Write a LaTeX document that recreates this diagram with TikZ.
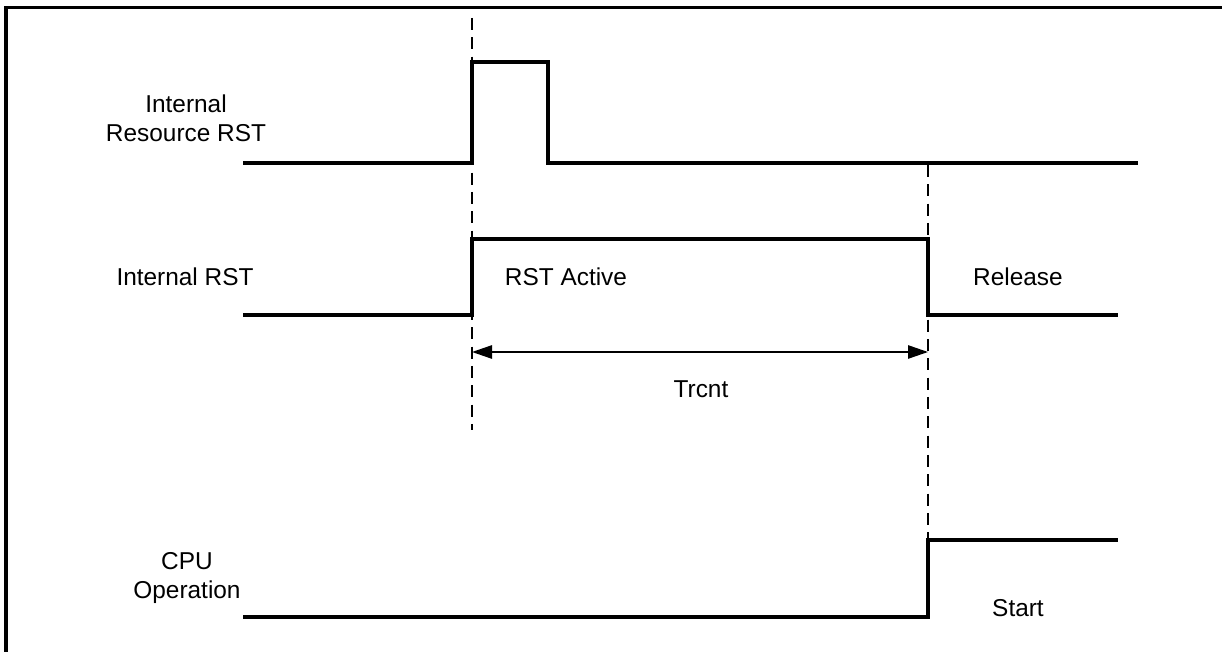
\documentclass[tikz,border=0pt]{standalone}
\usepackage{fontspec}
\setmainfont{Liberation Sans}
\usetikzlibrary{arrows.meta}
\begin{document}
\begin{tikzpicture}[x=0.75pt,y=-0.75pt,
  sig/.style={line width=2.7pt,line join=miter},
  frame/.style={line width=2.8pt},
  guide/.style={line width=1.2pt,dash pattern=on 9pt off 5.5pt},
  dim/.style={line width=1.2pt,{Triangle[length=15pt,width=10pt]}-{Triangle[length=15pt,width=10pt]}},
  lbl/.style={font=\fontsize{18.3pt}{21.75pt}\selectfont,align=center,inner sep=0pt}]
\useasboundingbox (0,0) rectangle (1222,652);
% frame (top and left edges)
\draw[frame] (6,662) -- (6,7.5) -- (1232,7.5);
% guides
\coordinate (g1t) at (472,18);
\coordinate (g1b) at (472,430);
\coordinate (g2t) at (928,165);
\coordinate (g2b) at (928,540);
\draw[guide] (g1t) -- (g1b);
\draw[guide] (g2t) -- (g2b);
% signals
\draw[sig] (243,163) -- (472,163) -- (472,62) -- (548,62) -- (548,163) -- (1138,163);
\draw[sig] (243,315) -- (472,315) -- (472,239) -- (928,239) -- (928,315) -- (1118,315);
\draw[sig] (243,617) -- (928,617) -- (928,540) -- (1118,540);
% dimension arrow
\coordinate (a1) at (472,352);
\coordinate (a2) at (928,352);
\draw[dim] (a1) -- (a2);
% labels
\node[lbl] (l1) at (186,118) {Internal\\Resource RST};
\node[lbl] (l2) at (185,277) {Internal RST};
\node[lbl] (l3) at (566,277) {RST Active};
\node[lbl] (l4) at (1018,277) {Release};
\node[lbl] (l5) at (701,389) {Trcnt};
\node[lbl] (l6) at (187,578) {CPU\\Operation};
\node[lbl] (l7) at (1018,608) {Start};
\end{tikzpicture}
\end{document}
